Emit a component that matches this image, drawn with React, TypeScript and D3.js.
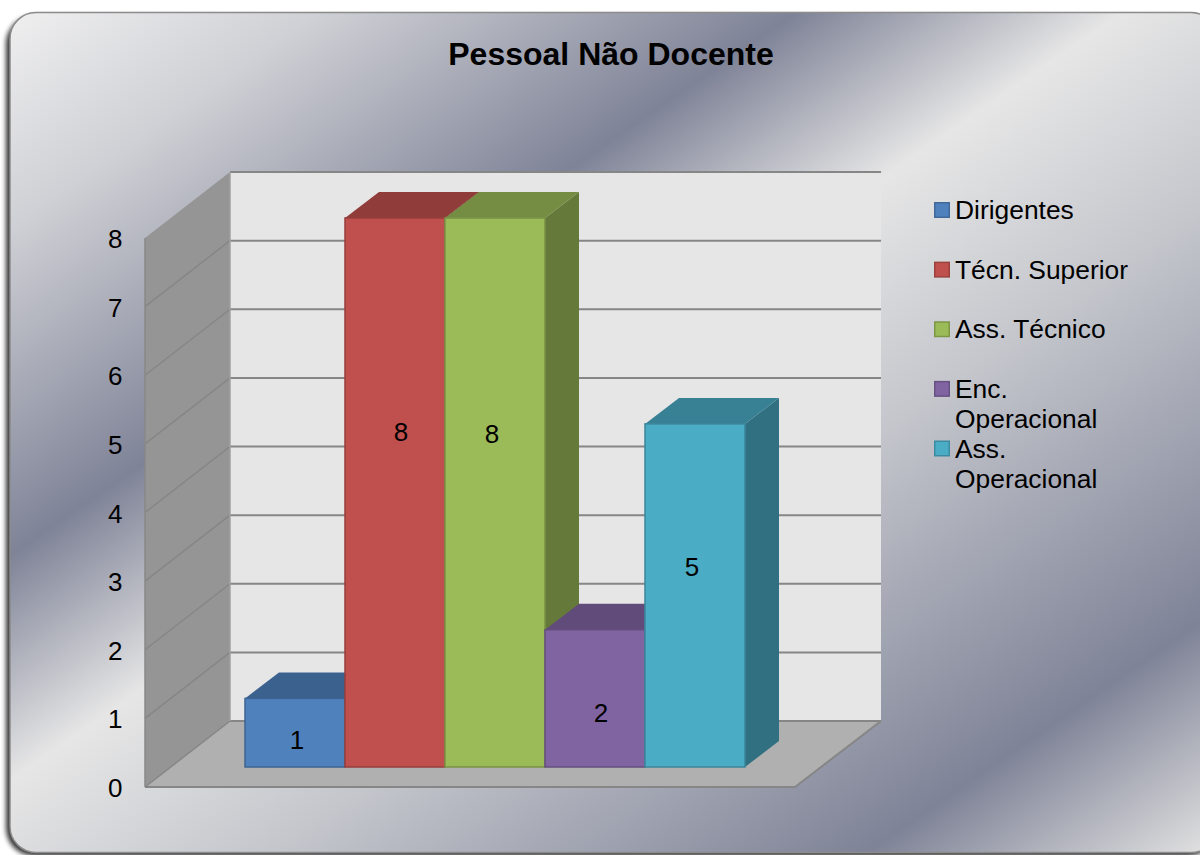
import * as d3 from "d3";

const categories = ["Dirigentes", "Técn. Superior", "Ass. Técnico", "Enc. Operacional", "Ass. Operacional"];
const values = [1, 8, 8, 2, 5];
const yTicks = [0, 1, 2, 3, 4, 5, 6, 7, 8];
const faceColors = ["#4f81bd", "#c0504d", "#9bbb59", "#8064a2", "#4bacc6"];
const title = "Pessoal Não Docente";

const width = 1200;
const height = 855;
const font = "'Liberation Sans', Arial, sans-serif";

// 3d box: front of the walls, then how far the back wall is pushed
const wallDepth = { dx: 85, dy: -66 };
const barDepth = { dx: 34, dy: -26 };

const y = d3.scaleLinear().domain([0, 8]).range([787, 238]);
const x = d3.scaleBand<string>().domain(categories).range([245, 745]).padding(0);
const floorInset = 20; // bars stand a bit behind the front edge of the floor

// label nudges, excel does not centre these in 3d
const labelNudge = [
  [2, 7],
  [6, -61],
  [-3, -59],
  [6, 15],
  [-3, -28],
];

// legend rows are split in lines like the original
const legendLines = [["Dirigentes"], ["Técn. Superior"], ["Ass. Técnico"], ["Enc.", "Operacional"], ["Ass.", "Operacional"]];
const legendY = d3.scaleLinear().domain([0, 4]).range([210, 448.5]);

const poly = (pts: number[][]) => d3.line()(pts as [number, number][]) + "Z";

function Bar({ name, value, color }: { name: string; value: number; color: string }) {
  const x0 = x(name)!;
  const x1 = x0 + x.bandwidth();
  const yb = y(0) - floorInset;
  const yt = y(value) - floorInset;
  const { dx, dy } = barDepth;
  const base = d3.color(color)!;
  const edge = base.darker(0.7).formatHex();
  return (
    <g>
      <path
        d={poly([[x1, yt], [x1 + dx, yt + dy], [x1 + dx, yb + dy], [x1, yb]])}
        fill={base.darker(1.2).formatHex()}
      />
      <path
        d={poly([[x0, yt], [x0 + dx, yt + dy], [x1 + dx, yt + dy], [x1, yt]])}
        fill={base.darker(0.8).formatHex()}
      />
      <rect x={x0} y={yt} width={x1 - x0} height={yb - yt} fill={color} stroke={edge} strokeWidth={1.5} />
    </g>
  );
}

export default function App() {
  const y0 = y(0);
  const xl = 145;
  const xr = 795;
  const { dx, dy } = wallDepth;

  return (
    <svg
      width={width}
      height={height}
      style={{ position: "absolute", left: 0, top: 0, display: "block" }}
      fontFamily={font}
    >
      <defs>
        <linearGradient id="silver" gradientUnits="userSpaceOnUse" x1={0} y1={0} x2={787} y2={1140}>
          <stop offset="0" stopColor="#f2f2f2" />
          <stop offset="0.14" stopColor="#cfd0d5" />
          <stop offset="0.334" stopColor="#7f8397" />
          <stop offset="0.468" stopColor="#e6e6e6" />
          <stop offset="0.618" stopColor="#c4c6cc" />
          <stop offset="0.862" stopColor="#7f8397" />
          <stop offset="1" stopColor="#e0e0e0" />
        </linearGradient>
        <filter id="shadow" x="-5%" y="-5%" width="110%" height="110%">
          <feGaussianBlur stdDeviation="2.5" />
        </filter>
      </defs>

      <rect x={6} y={16} width={1210} height={840} rx={28} fill="#000" opacity={0.8} filter="url(#shadow)" />
      <rect x={10} y={12.5} width={1207} height={840} rx={26} fill="url(#silver)" stroke="#8c8c8c" strokeWidth={1.5} />

      <text x={611} y={64.5} textAnchor="middle" fontSize={32} fontWeight="bold" fill="#000">
        {title}
      </text>

      {/* walls and floor */}
      <path d={poly([[xl + dx, y(8) + dy], [xr + dx + 1, y(8) + dy], [xr + dx + 1, y0 + dy], [xl + dx, y0 + dy]])} fill="#e6e6e6" />
      <path d={poly([[xl, y0], [xl + dx, y0 + dy], [xr + dx + 1, y0 + dy], [xr, y0]])} fill="#b0b0b0" />
      <path d={poly([[xl, y(8)], [xl + dx, y(8) + dy], [xl + dx, y0 + dy], [xl, y0]])} fill="#959595" />

      {/* gridlines on both walls */}
      {yTicks.map((t) => (
        <g key={t} fill="none">
          {t < 8 && (
            <path d={d3.line()([[xl, y(t)], [xl + dx, y(t) + dy]])!} stroke="#868686" strokeWidth={1.5} />
          )}
          <path
            d={d3.line()([[xl + dx, y(t) + dy], [xr + dx + 1, y(t) + dy]])!}
            stroke="#868686"
            strokeWidth={2}
          />
        </g>
      ))}
      <path d={d3.line()([[xl, y(0)], [xr, y(0)], [xr + dx + 1, y(0) + dy]])!} fill="none" stroke="#868686" strokeWidth={2} />
      <path d={d3.line()([[xl, y(8)], [xl, y(0)]])!} fill="none" stroke="#888888" strokeWidth={1.5} />
      <path d={d3.line()([[xl + dx, y(8) + dy], [xl + dx, y(0) + dy]])!} fill="none" stroke="#a0a0a0" strokeWidth={1.5} />

      {yTicks.map((t) => (
        <text key={t} x={122.5} y={y(t) + 10} textAnchor="end" fontSize={26} fill="#000">
          {t}
        </text>
      ))}

      {categories.map((c, i) => (
        <Bar key={c} name={c} value={values[i]} color={faceColors[i]} />
      ))}

      {categories.map((c, i) => (
        <text
          key={c}
          x={x(c)! + x.bandwidth() / 2 + labelNudge[i][0]}
          y={(y(values[i]) + y(0)) / 2 - floorInset + labelNudge[i][1] + 9}
          textAnchor="middle"
          fontSize={26}
          fill="#000"
        >
          {values[i]}
        </text>
      ))}

      {/* legend */}
      {categories.map((c, i) => (
        <g key={c}>
          <rect
            x={934.75}
            y={legendY(i) - 7.25}
            width={14.5}
            height={14.5}
            fill={faceColors[i]}
            stroke={d3.color(faceColors[i])!.darker(0.6).formatHex()}
            strokeWidth={1.5}
          />
          {legendLines[i].map((line, j) => (
            <text key={line} x={955} y={legendY(i) + 9 + j * 30} fontSize={26.4} fill="#000">
              {line}
            </text>
          ))}
        </g>
      ))}
    </svg>
  );
}
